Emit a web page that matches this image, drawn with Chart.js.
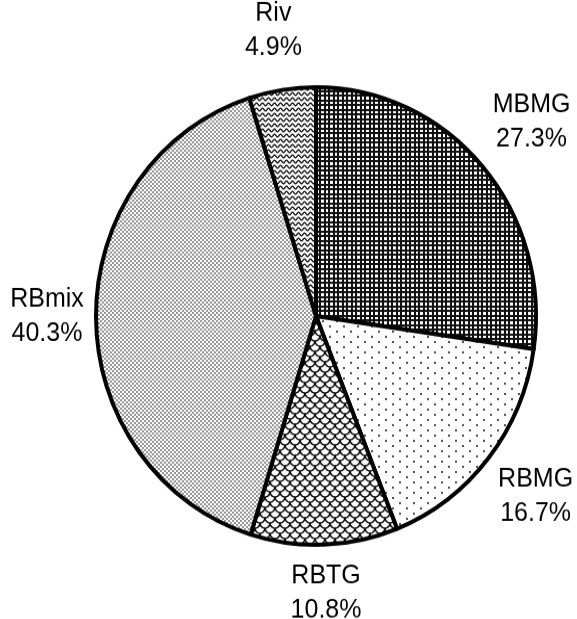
<!DOCTYPE html>
<html><head><meta charset="utf-8">
<script src="https://cdn.jsdelivr.net/npm/chart.js@4.4.1/dist/chart.umd.min.js"></script>
<style>html,body{margin:0;padding:0;background:#fff;}#wrap{width:577px;height:619px;overflow:hidden;position:relative;}#c{display:block;transform:scaleY(1.04);transform-origin:0 316px;}</style>
</head><body><div id="wrap"><canvas id="c" width="577" height="619"></canvas></div>
<script>
const categories = ['MBMG', 'RBMG', 'RBTG', 'RBmix', 'Riv'];
const shares = [27.3, 16.7, 10.8, 40.3, 4.9];
const shareLabels = ['27.3%', '16.7%', '10.8%', '40.3%', '4.9%'];

// gap between the pie rim and each label's centre (layout only)
const labelGap = [65, 60, 47, 49, 58];

function tile(w, h, draw) {
  const c = document.createElement('canvas');
  c.width = w; c.height = h;
  const x = c.getContext('2d');
  x.fillStyle = '#fff'; x.fillRect(0, 0, w, h);
  draw(x, w, h);
  return x.createPattern(c, 'repeat');
}
const gridPat = tile(9, 9, (x) => {
  x.fillStyle = '#111';
  x.fillRect(0, 0, 2, 9); x.fillRect(4, 0, 2, 9);
  x.fillRect(0, 0, 9, 2); x.fillRect(0, 4, 9, 2);
});
const dotPat = tile(14, 10, (x) => {
  x.fillStyle = '#555';
  x.fillRect(0, 0, 2, 2); x.fillRect(7, 5, 2, 2);
});
const scalePat = tile(10, 10, (x) => {
  x.strokeStyle = '#111'; x.lineWidth = 1.6;
  [[0,0],[10,0],[5,5],[0,10],[10,10],[5,-5]].forEach(([cx, cy]) => {
    x.beginPath(); x.arc(cx, cy, 5, 0, Math.PI); x.stroke();
  });
});
const checkPat = tile(4, 4, (x) => {
  x.fillStyle = '#959595';
  x.fillRect(0, 0, 2, 2); x.fillRect(2, 2, 2, 2);
});
const wavePat = tile(6, 5, (x) => {
  x.strokeStyle = '#111'; x.lineWidth = 1.3;
  x.beginPath();
  for (let i = -1; i <= 7; i += 0.5) {
    const y = 2.5 + 1.3 * Math.sin(2 * Math.PI * i / 6);
    if (i === -1) x.moveTo(i, y); else x.lineTo(i, y);
  }
  x.stroke();
});

const labelPlugin = {
  id: 'outLabels',
  afterDatasetsDraw(chart) {
    const ctx = chart.ctx;
    const meta = chart.getDatasetMeta(0);
    ctx.save();
    ctx.fillStyle = '#000';
    ctx.font = '25px "Liberation Sans", Arial, sans-serif';
    ctx.textAlign = 'center';
    ctx.textBaseline = 'middle';
    meta.data.forEach((arc, i) => {
      const p = arc.getProps(['x', 'y', 'startAngle', 'endAngle', 'outerRadius'], true);
      const mid = (p.startAngle + p.endAngle) / 2;
      const d = p.outerRadius + labelGap[i];
      const lx = p.x + Math.cos(mid) * d;
      const ly = p.y + Math.sin(mid) * d;
      ctx.fillText(categories[i], lx, ly - 16.5);
      ctx.fillText(shareLabels[i], lx, ly + 16.5);
    });
    ctx.restore();
  }
};

new Chart(document.getElementById('c'), {
  type: 'pie',
  data: {
    labels: categories,
    datasets: [{
      data: shares,
      backgroundColor: [gridPat, dotPat, scalePat, checkPat, wavePat],
      borderColor: '#000',
      borderWidth: 4,
      borderJoinStyle: 'round'
    }]
  },
  options: {
    responsive: false,
    animation: false,
    layout: { padding: { top: 94, bottom: 81, left: 94, right: 39 } },
    plugins: { legend: { display: false }, tooltip: { enabled: false } }
  },
  plugins: [labelPlugin]
});
</script></body></html>
